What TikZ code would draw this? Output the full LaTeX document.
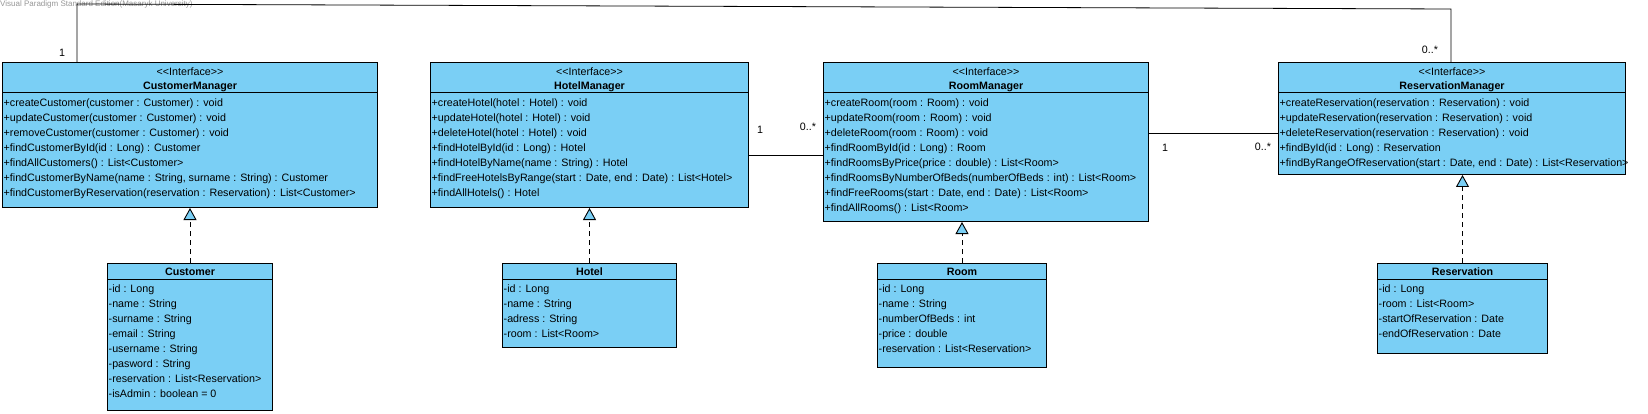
\documentclass[tikz,border=0pt]{standalone}
\usepackage{fontspec}
\setmainfont{Liberation Sans}
\usetikzlibrary{arrows.meta,positioning,calc}
\definecolor{umlblue}{RGB}{122,207,245}
\definecolor{vpgray}{RGB}{150,150,150}
\newcommand{\ifacelabel}{<\kern0pt<Interface>\kern0pt>}
\tikzset{
	classbox/.style={
		rectangle,
		draw=black,
		fill=umlblue,
		line width=1pt,
		inner sep=0pt,
		anchor=north west,
	},
	head/.style={
		anchor=north,
		inner sep=0pt,
		align=center,
		font=\fontsize{10.7}{14}\selectfont,
	},
	members/.style={
		anchor=north west,
		inner sep=0pt,
		xshift=1.5pt,
		align=left,
		font=\fontsize{10.7}{15}\selectfont,
	},
	sepline/.style={
		line width=1pt,
	},
	mult/.style={
		inner sep=0pt,
		font=\fontsize{10.7}{13}\selectfont,
	},
	assoc/.style={
		line width=0.8pt,
	},
	realize/.style={
		line width=0.9pt,
		dash pattern=on 5pt off 4pt,
		-{Triangle[length=12pt,width=13pt,fill=umlblue]},
	},
}

\begin{document}
\begin{tikzpicture}[x=1pt, y=-1pt]
				\useasboundingbox (0,0) rectangle (1648,414);
				\node[anchor=north west, inner sep=0pt, text=vpgray, font=\fontsize{8}{9}\selectfont] (watermark) at (0,1) {Visual Paradigm Standard Edition(Masaryk University)};
				
				% interfaces
				\node[classbox, minimum width=375pt, minimum height=145pt] (CustomerManager) at (2,62) {};
				\node[head] (CustomerManager-head) at (CustomerManager.north) {\rule{0pt}{13pt}\ifacelabel\\\textbf{CustomerManager}};
				\draw[sepline] ([yshift=-31pt]CustomerManager.north west) -- ([yshift=-31pt]CustomerManager.north east);
				\node[members] (CustomerManager-ops) at ([yshift=-31pt]CustomerManager.north west) {\rule{0pt}{13pt}+createCustomer(customer : Customer) : void\\
					+updateCustomer(customer : Customer) : void\\
					+removeCustomer(customer : Customer) : void\\
					+findCustomerById(id : Long) : Customer\\
					+findAllCustomers() : List<Customer>\\
					+findCustomerByName(name : String, surname : String) : Customer\\
					+findCustomerByReservation(reservation : Reservation) : List<Customer>};
				
				\node[classbox, minimum width=318pt, minimum height=145pt] (HotelManager) at (430,62) {};
				\node[head] (HotelManager-head) at (HotelManager.north) {\rule{0pt}{13pt}\ifacelabel\\\textbf{HotelManager}};
				\draw[sepline] ([yshift=-31pt]HotelManager.north west) -- ([yshift=-31pt]HotelManager.north east);
				\node[members] (HotelManager-ops) at ([yshift=-31pt]HotelManager.north west) {\rule{0pt}{13pt}+createHotel(hotel : Hotel) : void\\
					+updateHotel(hotel : Hotel) : void\\
					+deleteHotel(hotel : Hotel) : void\\
					+findHotelById(id : Long) : Hotel\\
					+findHotelByName(name : String) : Hotel\\
					+findFreeHotelsByRange(start : Date, end : Date) : List<Hotel>\\
					+findAllHotels() : Hotel};
				
				\node[classbox, minimum width=325pt, minimum height=159pt] (RoomManager) at (823,62) {};
				\node[head] (RoomManager-head) at (RoomManager.north) {\rule{0pt}{13pt}\ifacelabel\\\textbf{RoomManager}};
				\draw[sepline] ([yshift=-31pt]RoomManager.north west) -- ([yshift=-31pt]RoomManager.north east);
				\node[members] (RoomManager-ops) at ([yshift=-31pt]RoomManager.north west) {\rule{0pt}{13pt}+createRoom(room : Room) : void\\
					+updateRoom(room : Room) : void\\
					+deleteRoom(room : Room) : void\\
					+findRoomById(id : Long) : Room\\
					+findRoomsByPrice(price : double) : List<Room>\\
					+findRoomsByNumberOfBeds(numberOfBeds : int) : List<Room>\\
					+findFreeRooms(start : Date, end : Date) : List<Room>\\
					+findAllRooms() : List<Room>};
				
				\node[classbox, minimum width=347pt, minimum height=112pt] (ReservationManager) at (1278,62) {};
				\node[head] (ReservationManager-head) at (ReservationManager.north) {\rule{0pt}{13pt}\ifacelabel\\\textbf{ReservationManager}};
				\draw[sepline] ([yshift=-31pt]ReservationManager.north west) -- ([yshift=-31pt]ReservationManager.north east);
				\node[members] (ReservationManager-ops) at ([yshift=-31pt]ReservationManager.north west) {\rule{0pt}{13pt}+createReservation(reservation : Reservation) : void\\
					+updateReservation(reservation : Reservation) : void\\
					+deleteReservation(reservation : Reservation) : void\\
					+findById(id : Long) : Reservation\\
					+findByRangeOfReservation(start : Date, end : Date) : List<Reservation>};
				
				% classes
				\node[classbox, minimum width=165pt, minimum height=147pt] (Customer) at (107,263) {};
				\node[head] (Customer-head) at (Customer.north) {\rule{0pt}{12pt}\textbf{Customer}};
				\draw[sepline] ([yshift=-16pt]Customer.north west) -- ([yshift=-16pt]Customer.north east);
				\node[members] (Customer-attrs) at ([yshift=-16pt]Customer.north west) {\rule{0pt}{13pt}-id : Long\\
					-name : String\\
					-surname : String\\
					-email : String\\
					-username : String\\
					-pasword : String\\
					-reservation : List<Reservation>\\
					-isAdmin : boolean = 0};
				
				\node[classbox, minimum width=174pt, minimum height=84pt] (Hotel) at (502,263) {};
				\node[head] (Hotel-head) at (Hotel.north) {\rule{0pt}{12pt}\textbf{Hotel}};
				\draw[sepline] ([yshift=-16pt]Hotel.north west) -- ([yshift=-16pt]Hotel.north east);
				\node[members] (Hotel-attrs) at ([yshift=-16pt]Hotel.north west) {\rule{0pt}{13pt}-id : Long\\
					-name : String\\
					-adress : String\\
					-room : List<Room>};
				
				\node[classbox, minimum width=169pt, minimum height=104pt] (Room) at (877,263) {};
				\node[head] (Room-head) at (Room.north) {\rule{0pt}{12pt}\textbf{Room}};
				\draw[sepline] ([yshift=-16pt]Room.north west) -- ([yshift=-16pt]Room.north east);
				\node[members] (Room-attrs) at ([yshift=-16pt]Room.north west) {\rule{0pt}{13pt}-id : Long\\
					-name : String\\
					-numberOfBeds : int\\
					-price : double\\
					-reservation : List<Reservation>};
				
				\node[classbox, minimum width=170pt, minimum height=90pt] (Reservation) at (1377,263) {};
				\node[head] (Reservation-head) at (Reservation.north) {\rule{0pt}{12pt}\textbf{Reservation}};
				\draw[sepline] ([yshift=-16pt]Reservation.north west) -- ([yshift=-16pt]Reservation.north east);
				\node[members] (Reservation-attrs) at ([yshift=-16pt]Reservation.north west) {\rule{0pt}{13pt}-id : Long\\
					-room : List<Room>\\
					-startOfReservation : Date\\
					-endOfReservation : Date};
				
				%arcs
				\coordinate (top-left) at (77,4);
				\coordinate (top-right) at (1451,9);
				\draw[assoc] (CustomerManager.north -| top-left) -- (top-left) -- (top-right) -- (ReservationManager.north -| top-right);
				\node[mult] (m-cust) at (62,53) {1};
				\node[mult] (m-res-top) at (1430,50) {0..*};
				
				\draw[assoc] (HotelManager.east |- 0,155) -- (RoomManager.west |- 0,155);
				\node[mult] (m-hotel) at (760,130) {1};
				\node[mult] (m-room-h) at (808,127) {0..*};
				
				\draw[assoc] (RoomManager.east |- 0,133) -- (ReservationManager.west |- 0,133);
				\node[mult] (m-room-r) at (1165,148) {1};
				\node[mult] (m-res-r) at (1263,147) {0..*};
				
				\draw[realize] (Customer.north) -- (CustomerManager.south -| Customer.north);
				\draw[realize] (Hotel.north) -- (HotelManager.south -| Hotel.north);
				\draw[realize] (Room.north) -- (RoomManager.south -| Room.north);
				\draw[realize] (Reservation.north) -- (ReservationManager.south -| Reservation.north);
\end{tikzpicture}
\end{document}
